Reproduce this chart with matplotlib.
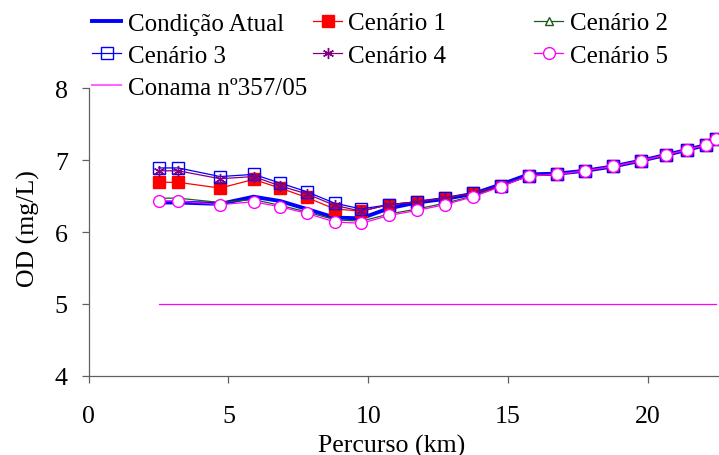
import numpy as np
import matplotlib
matplotlib.use('Agg')
import matplotlib.pyplot as plt
from matplotlib.lines import Line2D

plt.rcParams['font.family'] = ['Liberation Serif', 'DejaVu Serif']
plt.rcParams['font.size'] = 18.6

# percurso (km)
km = [2.5, 3.2, 4.7, 5.9, 6.85, 7.8, 8.8, 9.75, 10.75, 11.75, 12.75, 13.75,
      14.75, 15.75, 16.75, 17.75, 18.75, 19.75, 20.65, 21.4, 22.1, 22.45]

# OD (mg/L)
od_atual = [6.41, 6.41, 6.39, 6.49, 6.43, 6.32, 6.20, 6.19, 6.33, 6.41, 6.46, 6.53,
            6.66, 6.80, 6.81, 6.85, 6.91, 6.99, 7.07, 7.14, 7.21, 7.29]
od_cen1 = [6.69, 6.69, 6.61, 6.73, 6.61, 6.48, 6.32, 6.29, 6.38, 6.42, 6.47, 6.54,
           6.64, 6.78, 6.80, 6.85, 6.91, 6.99, 7.07, 7.14, 7.21, 7.29]
od_cen2 = [6.47, 6.47, 6.41, 6.45, 6.37, 6.28, 6.17, 6.15, 6.25, 6.32, 6.40, 6.50,
           6.64, 6.78, 6.80, 6.85, 6.91, 6.99, 7.07, 7.14, 7.21, 7.29]
od_cen3 = [6.89, 6.89, 6.77, 6.80, 6.68, 6.56, 6.40, 6.32, 6.38, 6.42, 6.47, 6.54,
           6.64, 6.78, 6.80, 6.85, 6.91, 6.99, 7.07, 7.14, 7.21, 7.29]
od_cen4 = [6.85, 6.85, 6.74, 6.77, 6.64, 6.53, 6.37, 6.29, 6.38, 6.42, 6.47, 6.54,
           6.64, 6.78, 6.80, 6.85, 6.91, 6.99, 7.07, 7.14, 7.21, 7.29]
od_cen5 = [6.43, 6.43, 6.38, 6.42, 6.35, 6.26, 6.14, 6.12, 6.23, 6.30, 6.38, 6.49,
           6.63, 6.78, 6.80, 6.85, 6.91, 6.99, 7.07, 7.14, 7.21, 7.29]
conama_km = [2.5, 22.45]
conama_od = [5, 5]

W, H = 719, 456
fig = plt.figure(figsize=(W / 100, H / 100), dpi=100)
ax = fig.add_axes([88.7 / W, (H - 377) / H, (W - 88.7) / W, (377 - 89) / H])

ax.plot(km, od_atual, color='#0000FF', lw=2.8, zorder=3)
ax.plot(km, od_cen2, color='#1E5A1E', lw=0.9, marker='^', ms=5, mfc='white', mec='#1E5A1E', mew=0.9, zorder=4)
ax.plot(km, od_cen1, color='#FF0000', lw=0.9, marker='s', ms=8.5, mfc='#FF0000', mec='#FF0000', zorder=5)
ax.plot(km, od_cen3, color='#0000FF', lw=0.9, marker='s', ms=9, mfc='none', mec='#0000FF', mew=1.0, zorder=6)
ax.plot(km, od_cen4, color='#800080', lw=0.9, marker=(6, 2, 0), ms=8, mec='#800080', mew=1.0, zorder=7)
ax.plot(km, od_cen5, color='#FF00FF', lw=0.9, marker='o', ms=8.5, mfc='white', mec='#FF00FF', mew=1.0, zorder=8)
ax.plot(conama_km, conama_od, color='#FF00FF', lw=0.9, zorder=2)

ax.set_xlim(0, (W - 88.7) / 27.95)
ax.set_ylim(4, 8)
ax.set_xticks([0, 5, 10, 15, 20])
ax.set_yticks([4, 5, 6, 7, 8])
for s in ['top', 'right']:
    ax.spines[s].set_visible(False)
for s in ['left', 'bottom']:
    ax.spines[s].set_color('#606060')
    ax.spines[s].set_linewidth(0.9)
ax.tick_params(axis='x', direction='out', length=5, width=0.9, color='#606060', pad=16)
ax.tick_params(axis='y', direction='out', length=5, width=0.9, color='#606060', pad=10)
ax.set_xlabel('Percurso (km)', va='center')
ax.xaxis.set_label_coords((391.5 - 88.7) / (W - 88.7), (377 - 446) / 288)
ax.set_ylabel('OD (mg/L)', va='center')
ax.yaxis.set_label_coords((28 - 88.7) / (W - 88.7), (377 - 229) / 288)

# legenda em tres colunas
h_atual = Line2D([], [], color='#0000FF', lw=2.8)
h1 = Line2D([], [], color='#FF0000', lw=0.9, marker='s', ms=8.5, mfc='#FF0000', mec='#FF0000')
h2 = Line2D([], [], color='#1E5A1E', lw=0.9, marker='^', ms=6, mfc='white', mec='#1E5A1E')
h3 = Line2D([], [], color='#0000FF', lw=0.9, marker='s', ms=8.5, mfc='none', mec='#0000FF')
h4 = Line2D([], [], color='#800080', lw=0.9, marker=(6, 2, 0), ms=8, mec='#800080')
h5 = Line2D([], [], color='#FF00FF', lw=0.9, marker='o', ms=8.5, mfc='white', mec='#FF00FF')
h_con = Line2D([], [], color='#FF66FF', lw=1.5)

cols = [([h_atual, h3, h_con], ['Condição Atual', 'Cenário 3', 'Conama nº357/05'], 92),
        ([h1, h4], ['Cenário 1', 'Cenário 4'], 313),
        ([h2, h5], ['Cenário 2', 'Cenário 5'], 534)]
for hs, ls, xpx in cols:
    fig.legend(hs, ls, loc='upper left', bbox_to_anchor=(xpx / W, (H - 13) / H),
               frameon=False, borderpad=0, borderaxespad=0, handlelength=1.17,
               handletextpad=0.25, labelspacing=0.39, fontsize=18)

fig.savefig('out.png', dpi=100)
